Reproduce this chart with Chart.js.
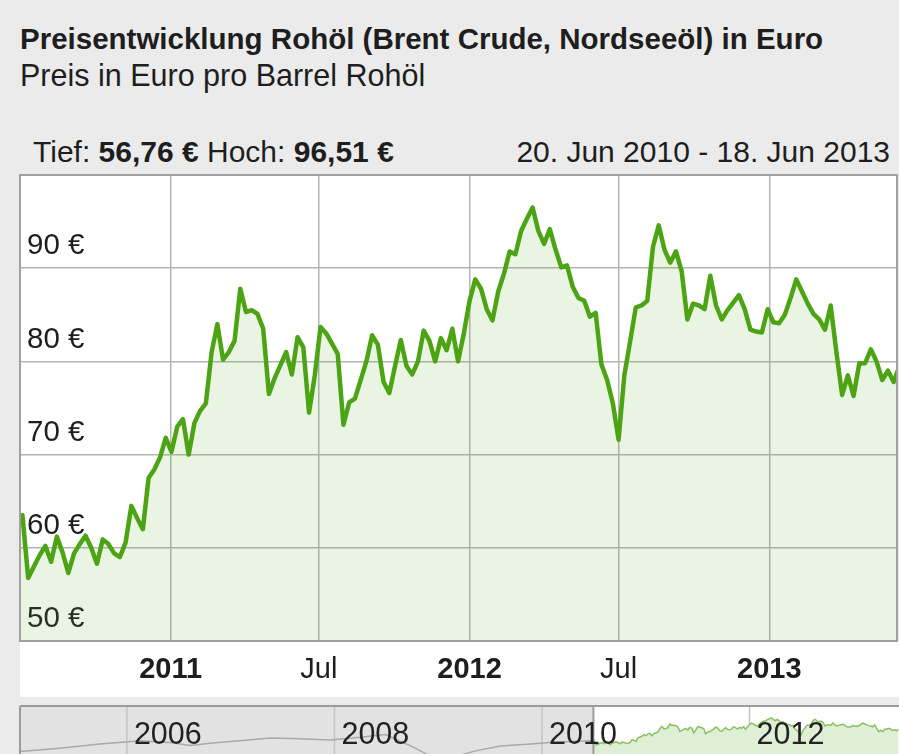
<!DOCTYPE html>
<html lang="de">
<head>
<meta charset="utf-8">
<title>Preisentwicklung Rohöl</title>
<script src="https://cdn.jsdelivr.net/npm/chart.js@4.4.1/dist/chart.umd.min.js"></script>
<style>
  html, body { margin: 0; padding: 0; }
  body {
    width: 899px; height: 754px; overflow: hidden; position: relative;
    background: #ebebeb; color: #1e1e1e;
    font-family: "Liberation Sans", Arial, sans-serif;
  }
  .txt { position: absolute; white-space: nowrap; line-height: 1; }
  #title { left: 20px; top: 24px; font-size: 29.5px; font-weight: bold; }
  #subtitle { left: 20px; top: 60px; font-size: 30.5px; }
  #lowHigh { left: 33px; top: 137px; font-size: 30px; }
  #dateRange { right: 9px; top: 137px; font-size: 30px; }
  #mainChart { position: absolute; left: 0; top: 0; }
  #navChart { position: absolute; left: 0; top: 704px; }
</style>
</head>
<body>
<div class="txt" id="title">Preisentwicklung Rohöl (Brent Crude, Nordseeöl) in Euro</div>
<div class="txt" id="subtitle">Preis in Euro pro Barrel Rohöl</div>
<div class="txt" id="lowHigh"></div>
<div class="txt" id="dateRange">20. Jun 2010 - 18. Jun 2013</div>
<canvas id="mainChart" width="899" height="700"></canvas>
<canvas id="navChart" width="899" height="100"></canvas>
<script>
// weekly Brent closes in EUR, first value one week after the start date
const startDate = '2010-06-20';
const stepDays = 7;
const prices = [
  63.0, 63.5, 56.76, 58.0, 59.2, 60.2, 58.5, 61.2, 59.5, 57.3,
  59.4, 60.4, 61.3, 60.0, 58.3, 60.9, 60.4, 59.4, 59.0, 60.6,
  64.5, 63.2, 62.0, 67.5, 68.4, 69.7, 71.8, 70.3, 73.0, 73.8,
  70.0, 73.4, 74.7, 75.5, 81.0, 84.0, 80.2, 81.0, 82.2, 87.8,
  85.3, 85.5, 85.1, 83.5, 76.5, 78.2, 79.6, 81.0, 78.6, 82.6,
  81.5, 74.5, 78.5, 83.7, 83.0, 81.9, 80.8, 73.2, 75.6, 76.0,
  78.0, 80.0, 82.8, 81.8, 77.8, 76.6, 79.5, 82.3, 79.5, 78.6,
  80.0, 83.3, 82.2, 80.0, 82.5, 81.2, 83.5, 80.0, 83.0, 86.5,
  88.8, 87.8, 85.6, 84.4, 87.5, 89.4, 91.8, 91.5, 94.0, 95.3,
  96.51, 94.0, 92.6, 94.2, 92.0, 90.1, 90.3, 88.0, 86.8, 86.5,
  84.8, 85.2, 79.7, 78.0, 75.5, 71.6, 78.5, 82.1, 85.8, 86.0,
  86.5, 92.3, 94.6, 92.0, 90.6, 91.8, 89.7, 84.5, 86.2, 86.0,
  85.6, 89.2, 86.0, 84.5, 85.5, 86.3, 87.1, 85.6, 83.4, 83.2,
  83.1, 85.6, 84.2, 84.1, 85.0, 86.8, 88.8, 87.5, 86.2, 85.1,
  84.5, 83.4, 86.0, 81.0, 76.4, 78.5, 76.3, 79.8, 79.8, 81.3,
  80.0, 78.0, 79.0, 77.8, 79.5
];

// visible window of the main chart
const viewFrom = '2010-07-01';
const viewTo = '2013-06-06';

const tickDates = ['2010-07-01', '2011-01-01', '2011-07-01', '2012-01-01', '2012-07-01', '2013-01-01'];
const tickLabels = ['', '2011', 'Jul', '2012', 'Jul', '2013'];
const yTicks = [50, 60, 70, 80, 90, 100];

// long-term history for the overview strip (decimal year, EUR)
const navHistoryYears = [2004.97, 2005.35, 2005.74, 2006.13, 2006.44, 2006.61, 2006.85, 2007.09, 2007.38, 2007.67,
                         2007.96, 2008.25, 2008.49, 2008.74, 2008.93, 2009.12, 2009.36, 2009.60, 2009.89, 2010.13, 2010.50];
const navHistoryValues = [47, 52, 58, 63, 60, 56, 60, 63, 67, 66,
                          64, 68, 72, 55, 40, 38, 48, 55, 58, 61, 63];
const navYears = [2006, 2008, 2010, 2012];
const navFrom = 2004.97;
const navTo = 2013.44;

const FONT = '"Liberation Sans", Arial, sans-serif';
const TEXT = '#1e1e1e';
const GRID = '#b4b4b4';

const DAY = 864e5;
const t0 = Date.parse(startDate);
const dayOf = iso => (Date.parse(iso) - t0) / DAY;
const yearOf = day => 2010 + (t0 + day * DAY - Date.UTC(2010, 0, 1)) / (365.25 * DAY);

const points = prices.map((p, i) => ({ x: (i + 1) * stepDays, y: p }));
const tickDays = tickDates.map(dayOf);
const labelFor = v => {
  const i = tickDays.indexOf(v);
  return i < 0 ? '' : tickLabels[i];
};

const fmt = v => v.toFixed(2).replace('.', ',') + ' €';
document.getElementById('lowHigh').innerHTML =
  'Tief: <b>' + fmt(Math.min(...prices)) + '</b> Hoch: <b>' + fmt(Math.max(...prices)) + '</b>';

const plotFrame = {
  id: 'plotFrame',
  beforeDraw(chart) {
    const { ctx, chartArea: a } = chart;
    ctx.save();
    ctx.fillStyle = '#fff';
    ctx.fillRect(a.left, a.top, a.right - a.left, a.bottom - a.top);
    ctx.fillRect(a.left, a.bottom, chart.width - a.left, 56);
    ctx.restore();
  },
  afterDraw(chart) {
    const { ctx, chartArea: a } = chart;
    ctx.save();
    ctx.strokeStyle = '#a0a0a0';
    ctx.lineWidth = 2;
    ctx.strokeRect(a.left, a.top, a.right - a.left, a.bottom - a.top);
    ctx.restore();
  }
};

new Chart(document.getElementById('mainChart'), {
  type: 'line',
  data: {
    datasets: [{
      data: points,
      borderColor: '#4ca313',
      borderWidth: 4.5,
      borderJoinStyle: 'round',
      backgroundColor: 'rgba(90,170,40,0.13)',
      fill: 'start',
      pointRadius: 0,
      tension: 0,
      clip: 0
    }]
  },
  options: {
    responsive: false,
    animation: false,
    parsing: false,
    layout: { padding: { left: 20, right: 2, top: 175, bottom: 0 } },
    plugins: { legend: { display: false }, tooltip: { enabled: false } },
    scales: {
      x: {
        type: 'linear',
        min: dayOf(viewFrom),
        max: dayOf(viewTo),
        afterBuildTicks: axis => { axis.ticks = tickDays.map(v => ({ value: v })); },
        afterFit: axis => { axis.height = 59; },
        grid: { color: GRID, lineWidth: 1.5, drawTicks: false },
        border: { display: false },
        ticks: {
          autoSkip: false,
          maxRotation: 0,
          padding: 12,
          color: TEXT,
          callback: v => labelFor(v),
          font: ctx => ({
            family: FONT,
            size: 29,
            weight: /^\d{4}$/.test(labelFor(ctx.tick ? ctx.tick.value : null)) ? 'bold' : 'normal'
          })
        }
      },
      y: {
        min: 50,
        max: 100,
        afterBuildTicks: axis => { axis.ticks = yTicks.map(v => ({ value: v })); },
        afterFit: axis => { axis.width = 0; },
        grid: { color: GRID, lineWidth: 1.5, drawTicks: false },
        border: { display: false },
        ticks: { display: false }
      },
      // price labels sit inside the plot, above their grid line and over the line
      yLabels: {
        position: 'left',
        z: 1,
        min: 50,
        max: 100,
        afterBuildTicks: axis => { axis.ticks = yTicks.map(v => ({ value: v })); },
        afterFit: axis => { axis.width = 0; },
        grid: { display: false, drawTicks: false },
        border: { display: false },
        ticks: {
          mirror: true,
          padding: 7,
          labelOffset: -22,
          color: TEXT,
          font: { family: FONT, size: 29.5 },
          callback: v => (v === 100 ? '' : v + ' €')
        }
      }
    }
  },
  plugins: [plotFrame]
});

// overview strip below the chart
const selFrom = yearOf(dayOf(viewFrom));

const navDecor = {
  id: 'navDecor',
  beforeDatasetsDraw(chart) {
    const { ctx, chartArea: a, scales: { x } } = chart;
    const selX = x.getPixelForValue(selFrom);
    ctx.save();
    ctx.fillStyle = '#e2e2e2';
    ctx.fillRect(a.left, 2, selX - a.left, chart.height);
    ctx.fillStyle = '#fff';
    ctx.fillRect(selX, 2, chart.width - selX, chart.height);
    ctx.strokeStyle = '#c4c4c4';
    ctx.lineWidth = 1.5;
    navYears.forEach(yr => {
      const px = x.getPixelForValue(yr);
      ctx.beginPath();
      ctx.moveTo(px, 2);
      ctx.lineTo(px, chart.height);
      ctx.stroke();
    });
    ctx.restore();
  },
  afterDatasetsDraw(chart) {
    const { ctx, chartArea: a, scales: { x } } = chart;
    const selX = x.getPixelForValue(selFrom);
    ctx.save();
    ctx.strokeStyle = '#9c9c9c';
    ctx.lineWidth = 2;
    ctx.beginPath();
    ctx.moveTo(a.left, 2);
    ctx.lineTo(chart.width, 2);
    ctx.moveTo(a.left, 2);
    ctx.lineTo(a.left, chart.height);
    ctx.moveTo(selX, 2);
    ctx.lineTo(selX, chart.height);
    ctx.stroke();
    ctx.fillStyle = '#222';
    ctx.font = '30.5px ' + FONT;
    ctx.textBaseline = 'alphabetic';
    navYears.forEach(yr => {
      ctx.fillText(String(yr), x.getPixelForValue(yr) + 7, 40);
    });
    ctx.restore();
  }
};

new Chart(document.getElementById('navChart'), {
  type: 'line',
  data: {
    datasets: [
      {
        data: navHistoryYears.map((yr, i) => ({ x: yr, y: navHistoryValues[i] })),
        borderColor: '#a9a9a9',
        borderWidth: 1.5,
        fill: false,
        pointRadius: 0,
        tension: 0
      },
      {
        data: points.map(p => ({ x: yearOf(p.x), y: p.y })),
        borderColor: '#86c060',
        borderWidth: 1.5,
        backgroundColor: '#dfefd5',
        fill: 'start',
        pointRadius: 0,
        tension: 0
      }
    ]
  },
  options: {
    responsive: false,
    animation: false,
    parsing: false,
    layout: { padding: { left: 20, right: 0, top: 2, bottom: 20.5 } },
    plugins: { legend: { display: false }, tooltip: { enabled: false } },
    scales: {
      x: { type: 'linear', min: navFrom, max: navTo, display: false },
      y: { min: 0, max: 114, display: false }
    }
  },
  plugins: [navDecor]
});
</script>
</body>
</html>
